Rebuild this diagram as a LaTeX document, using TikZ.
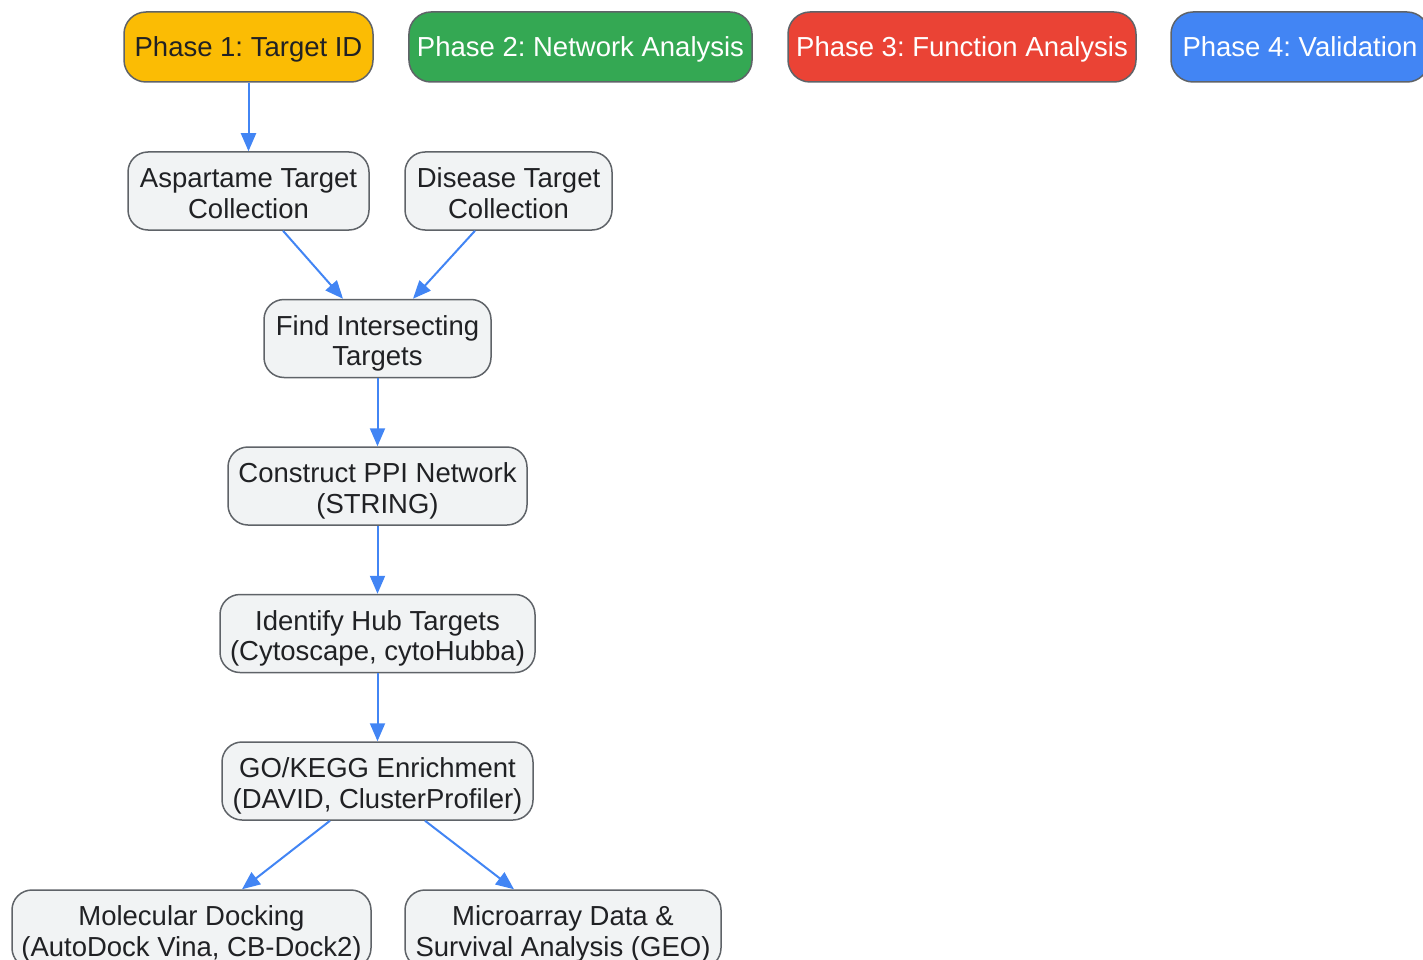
\documentclass[tikz,border=0pt]{standalone}
\usepackage{fontspec}
\setmainfont{Liberation Sans}
\frenchspacing
\usetikzlibrary{arrows.meta}
\definecolor{phaseyellow}{HTML}{FBBC04}
\definecolor{phasegreen}{HTML}{34A853}
\definecolor{phasered}{HTML}{EA4335}
\definecolor{phaseblue}{HTML}{4285F4}
\definecolor{boxfill}{HTML}{F1F3F4}
\definecolor{boxline}{HTML}{5F6368}
\definecolor{boxtext}{HTML}{202124}
\tikzset{
  phase/.style={draw=boxline, line width=1.5pt, rounded corners=22pt, minimum height=70pt, inner xsep=8pt, text height=24.75pt, text depth=5pt, font=\fontsize{27.5}{30.5}\selectfont},
  task/.style={draw=boxline, line width=1.5pt, rounded corners=20pt, fill=boxfill, text=boxtext, minimum height=78pt, align=center, inner xsep=9pt, inner ysep=4pt, text height=55.25pt, text depth=0.95pt, font=\fontsize{27.5}{30.5}\selectfont},
  flow/.style={draw=phaseblue, line width=2pt, -{Triangle[length=18pt, width=15pt]}}
}
\begin{document}
\begin{tikzpicture}[x=1pt, y=-1pt]
            \useasboundingbox (0,0) rectangle (1423,960);
            % phase headers
            \node[phase, fill=phaseyellow, text=boxtext, minimum width=249pt] (p1) at (248.5,47) {Phase 1: Target ID};
            \node[phase, fill=phasegreen, text=white, minimum width=343pt] (p2) at (580.5,47) {Phase 2: Network Analysis};
            \node[phase, fill=phasered, text=white, minimum width=348pt] (p3) at (962,47) {Phase 3: Function Analysis};
            \node[phase, fill=phaseblue, text=white, minimum width=258pt] (p4) at (1300,47) {Phase 4: Validation};

            % steps
            \node[task, minimum width=241pt] (asp) at (248.5,191) {Aspartame Target\\Collection};
            \node[task, minimum width=207pt] (dis) at (508.5,191) {Disease Target\\Collection};
            \node[task, minimum width=227pt] (find) at (377.5,338.5) {Find Intersecting\\Targets};
            \node[task, minimum width=299pt] (ppi) at (377.5,486) {Construct PPI Network\\(STRING)};
            \node[task, minimum width=315pt] (hub) at (377.5,633.5) {Identify Hub Targets\\(Cytoscape, cytoHubba)};
            \node[task, minimum width=311pt] (go) at (377.5,781) {GO/KEGG Enrichment\\(DAVID, ClusterProfiler)};
            \node[task, minimum width=359pt] (dock) at (191.5,929) {Molecular Docking\\(AutoDock Vina, CB-Dock2)};
            \node[task, minimum width=316pt] (geo) at (563,929) {Microarray Data \&\\Survival Analysis (GEO)};

            % connectors
            \draw[flow] (p1) -- (asp);
            \draw[flow] ([xshift=34.5pt]asp.south) -- ([xshift=-34.5pt]find.north);
            \draw[flow] ([xshift=-33.5pt]dis.south) -- ([xshift=35.5pt]find.north);
            \draw[flow] (find) -- (ppi);
            \draw[flow] (ppi) -- (hub);
            \draw[flow] (hub) -- (go);
            \draw[flow] ([xshift=-47.5pt]go.south) -- ([xshift=50.5pt]dock.north);
            \draw[flow] ([xshift=47.5pt]go.south) -- ([xshift=-49pt]geo.north);
        \end{tikzpicture}
\end{document}
